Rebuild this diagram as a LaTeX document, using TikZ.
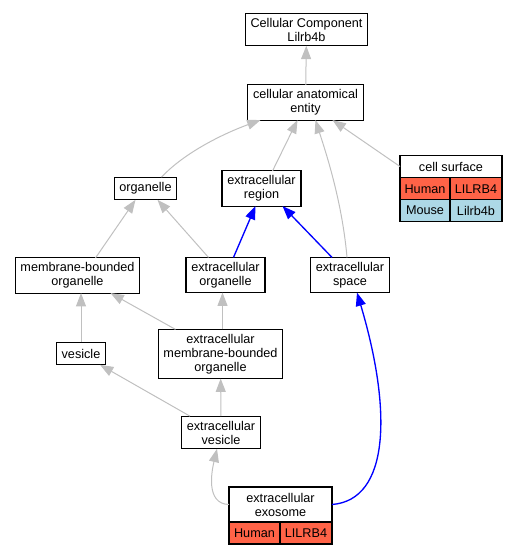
\documentclass[tikz,border=0pt]{standalone}
\usepackage{fontspec}
\setmainfont{Liberation Sans}
\usepackage{xcolor}
\usepackage{tikz}
\usetikzlibrary{arrows.meta, calc}
\definecolor{humanred}{RGB}{255, 99, 71}
\definecolor{mouseblue}{RGB}{173, 216, 230}
\definecolor{edgegray}{RGB}{192, 192, 192}
\tikzset{
    term/.style={
        rectangle,
        draw=black,
        line width=0.8pt,
        outer sep=0pt,
        minimum height=17pt,
        inner xsep=4pt,
        inner ysep=3.5pt,
        align=center,
        fill=white,
        font=\fontsize{9.5}{10.5}\selectfont
    },
    human/.style={term, fill=humanred, inner xsep=2pt, minimum height=16.5pt, anchor=north west},
    mouse/.style={term, fill=mouseblue, inner xsep=2pt, minimum height=16pt, anchor=north west},
    line/.style={draw=edgegray, line width=0.75pt, -{Triangle[length=10pt, width=7.5pt]}},
    blueline/.style={draw=blue, line width=1pt, -{Triangle[length=10pt, width=7.5pt]}}
}
\begin{document}
\begin{tikzpicture}[x=0.75pt, y=-0.75pt]
    \useasboundingbox (0,0) rectangle (517,555);

    % Nodes
    \node[term] (cc) at (306.5, 29.5) {Cellular Component\\Lilrb4b};
    \node[term] (cae) at (305.5, 102.5) {cellular anatomical\\entity};

    \node[term] (org) at (145.5, 188.5) {organelle};
    \node[term] (er) at (261.5, 188.5) {extracellular\\region};

    \node[term, minimum width=76.5pt, minimum height=17pt] (cs) at (451, 166.5) {cell surface};
    \node[human, minimum width=37.5pt] (csh) at (cs.south west) {Human};
    \node[human, minimum width=39pt] (csl) at (csh.north east) {LILRB4};
    \node[mouse, minimum width=37.5pt] (csm) at (csh.south west) {Mouse};
    \node[mouse, minimum width=39pt] (csb) at (csm.north east) {Lilrb4b};

    \node[term] (mbo) at (77.5, 275.5) {membrane-bounded\\organelle};
    \node[term] (eo) at (225.5, 275) {extracellular\\organelle};
    \node[term] (es) at (350, 275) {extracellular\\space};

    \node[term] (ves) at (81, 353.5) {vesicle};
    \node[term] (embo) at (220.5, 354) {extracellular\\membrane-bounded\\organelle};

    \node[term] (ev) at (221, 432.5) {extracellular\\vesicle};

    \node[term, minimum width=77.25pt, minimum height=26.25pt] (exo) at (280.5, 504.5) {extracellular\\exosome};
    \node[human, minimum width=38.25pt] (exh) at (exo.south west) {Human};
    \node[human, minimum width=39pt] (exl) at (exh.north east) {LILRB4};

    % Connections
    \path[line] (cae) -- (cc);
    \path[line] ($(org.north)+(16,0)$) .. controls (185,152) and (225,133) .. ($(cae.south)+(-45,0)$);
    \path[line] ($(er.north)+(11,0)$) -- ($(cae.south)+(-8,0)$);
    \path[line] ($(es.north)+(-3,0)$) .. controls (342,200) and (325,150) .. ($(cae.south)+(10,0)$);
    \path[line] (cs.west) -- ($(cae.south)+(27,0)$);

    \path[line] ($(mbo.north)+(18,0)$) -- ($(org.south)+(-10,0)$);
    \path[line] ($(eo.north)+(-17,0)$) -- ($(org.south)+(12,0)$);
    \path[blueline] ($(eo.north)+(8,0)$) -- ($(er.south)+(-6,0)$);
    \path[blueline] ($(es.north)+(-18,0)$) -- ($(er.south)+(21,0)$);

    \path[line] (ves.north) -- (ves.north |- mbo.south);
    \path[line] ($(embo.north)+(-45,0)$) -- ($(mbo.south)+(33,0)$);
    \path[line] ($(embo.north)+(2,0)$) -- ($(eo.south)+(-3,0)$);

    \path[line] ($(ev.north)+(-31,0)$) -- ($(ves.south)+(19,0)$);
    \path[line] (ev) -- (embo);

    \path[line] (exo.west) .. controls (205,504) and (212,470) .. ($(ev.south)+(-4,0)$);
    \path[blueline] (exo.east) .. controls (390,500) and (392,410) .. ($(es.south)+(7,0)$);

\end{tikzpicture}
\end{document}
